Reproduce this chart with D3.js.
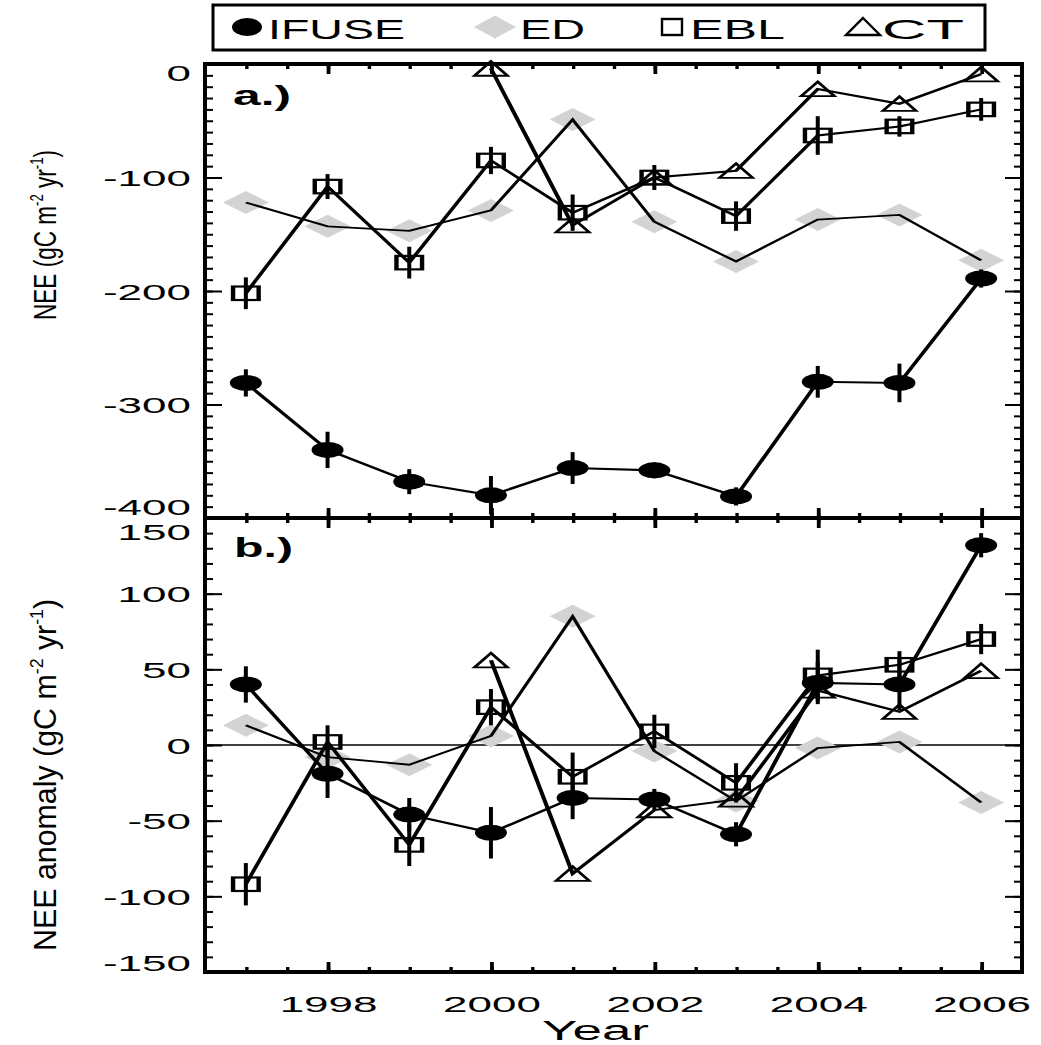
<!DOCTYPE html>
<html><head><meta charset="utf-8">
<script src="https://cdn.jsdelivr.net/npm/d3@7"></script>
<style>body{margin:0;background:#fff}svg{display:block}</style>
</head><body>
<svg id="c" width="1041" height="1045"></svg>
<script>
// ---------- data ----------
const years = [1997,1998,1999,2000,2001,2002,2003,2004,2005,2006];
const ifuseNEE = [-281,-340,-368,-380,-356,-358,-381,-280,-281,-189];
const ifuseErr = [12,16,11,17,14,7,8,14,17,8];
const edNEE    = [-122,-143,-147,-129,-49,-139,-174,-137,-133,-173];
const eblNEE   = [-202,-108,-175,-85,-131,-100,-134,-63,-55,-40];
const eblErr   = [14,11,14,12,16,11,13,17,9,10];
const ctNEE    = [null,null,null,-4,-142,-100,-94,-22,-35,-9];
const ifuseAnom = [40,-19,-46,-58,-35,-36,-59,41,40,132];
const edAnom    = [13,-8,-13,6,85,-4,-37,-2,2,-38];
const eblAnom   = [-92,2,-66,25,-21,9,-25,46,53,70];
const ctAnom    = [null,null,null,56,-85,-43,-36,36,22,49];
const topTicks = [-400,-300,-200,-100,0];
const bottomTicks = [-150,-100,-50,0,50,100,150];
const yearTicks = [1998,2000,2002,2004,2006];
const legendNames = ["IFUSE","ED","EBL","CT"];

// ---------- layout ----------
const SX = 2;                       // horizontal stretch of the plotting group
const L = 205, R = 1022, T1 = 64, B1 = 518, T2 = 518, B2 = 972;
const FONT = "Liberation Sans, Arial, Helvetica, sans-serif";
const GRAY = "#d3d3d3";

const svg = d3.select("#c");
const g = svg.append("g").attr("transform", `scale(${SX},1)`);

const x = d3.scaleLinear().domain([1996.5, 2006.5]).range([L/SX, R/SX]);
const y1 = d3.scaleLinear().domain([-400, 0]).range([B1, T1]);
const y2 = d3.scaleLinear().domain([-150, 150]).range([B2, T2]);

function styleAxis(sel, sw) {
  sel.select(".domain").remove();
  sel.selectAll("line").attr("stroke", "#000").attr("stroke-width", sw);
  sel.attr("font-family", FONT).attr("font-size", 22);
  sel.selectAll("text").attr("fill", "#000");
}

function drawPanel(y, top, bottom, majors, shifts, showXLabels) {
  const gp = g.append("g");
  const [d0, d1] = y.domain();
  const minors = d3.range(d0, d1 + 0.001, 10);
  const xMinor = d3.range(1997, 2006.01, 0.5);
  // left axis
  gp.append("g").attr("transform", `translate(${L/SX},0)`)
    .call(d3.axisLeft(y).tickValues(minors).tickSize(-4).tickFormat(""))
    .call(s => styleAxis(s, 2));
  gp.append("g").attr("transform", `translate(${L/SX},0)`)
    .call(d3.axisLeft(y).tickValues(majors).tickSize(-8.5).tickPadding(7).tickFormat(d => String(d)))
    .call(s => styleAxis(s, 2))
    .call(s => s.selectAll("text").attr("dy", d => (shifts[d] !== undefined ? shifts[d] : 0) + 8));
  // right axis
  gp.append("g").attr("transform", `translate(${R/SX},0)`)
    .call(d3.axisRight(y).tickValues(minors).tickSize(-4).tickFormat(""))
    .call(s => styleAxis(s, 2));
  gp.append("g").attr("transform", `translate(${R/SX},0)`)
    .call(d3.axisRight(y).tickValues(majors).tickSize(-8.5).tickFormat(""))
    .call(s => styleAxis(s, 2));
  // top x ticks
  gp.append("g").attr("transform", `translate(0,${top})`)
    .call(d3.axisTop(x).tickValues(xMinor).tickSize(-5).tickFormat(""))
    .call(s => styleAxis(s, 1.7));
  gp.append("g").attr("transform", `translate(0,${top})`)
    .call(d3.axisTop(x).tickValues(yearTicks).tickSize(-10).tickFormat(""))
    .call(s => styleAxis(s, 1.9));
  // bottom x ticks
  gp.append("g").attr("transform", `translate(0,${bottom})`)
    .call(d3.axisBottom(x).tickValues(xMinor).tickSize(-5).tickFormat(""))
    .call(s => styleAxis(s, 1.7));
  gp.append("g").attr("transform", `translate(0,${bottom})`)
    .call(d3.axisBottom(x).tickValues(yearTicks).tickSize(-10).tickPadding(24)
      .tickFormat(d => showXLabels ? String(d) : ""))
    .call(s => styleAxis(s, 1.9));
  return gp;
}

function drawFrame(top, bottom) {
  svg.append("rect").attr("x", L).attr("y", top).attr("width", R - L).attr("height", bottom - top)
    .attr("fill", "none").attr("stroke", "#000").attr("stroke-width", 4);
}

function seriesPts(vals, errs) {
  return years.map((yr, i) => ({ yr, v: vals[i], e: errs ? errs[i] : null })).filter(d => d.v !== null);
}

function drawData(y, ifuse, ed, ebl, ct) {
  const gd = g.append("g");
  const line = yy => d3.line().x(d => x(d.yr)).y(d => yy(d.v));
  // ED: diamonds first, then line
  const edP = seriesPts(ed);
  gd.append("g").selectAll("path").data(edP).join("path")
    .attr("transform", d => `translate(${x(d.yr)},${y(d.v)})`)
    .attr("d", "M0,-11.5L11.5,0L0,11.5L-11.5,0Z").attr("fill", GRAY);
  gd.append("path").datum(edP).attr("d", line(y)).attr("fill", "none")
    .attr("stroke", "#000").attr("stroke-width", 1.8);
  // IFUSE
  const ifP = seriesPts(ifuse, ifuseErr);
  gd.append("path").datum(ifP).attr("d", line(y)).attr("fill", "none")
    .attr("stroke", "#000").attr("stroke-width", 2.1);
  gd.append("g").selectAll("line").data(ifP).join("line")
    .attr("x1", d => x(d.yr)).attr("x2", d => x(d.yr))
    .attr("y1", d => y(d.v - d.e)).attr("y2", d => y(d.v + d.e))
    .attr("stroke", "#000").attr("stroke-width", 2);
  gd.append("g").selectAll("ellipse").data(ifP).join("ellipse")
    .attr("cx", d => x(d.yr)).attr("cy", d => y(d.v)).attr("rx", 8).attr("ry", 8).attr("fill", "#000");
  // EBL
  const ebP = seriesPts(ebl, eblErr);
  gd.append("path").datum(ebP).attr("d", line(y)).attr("fill", "none")
    .attr("stroke", "#000").attr("stroke-width", 2.1);
  gd.append("g").selectAll("line").data(ebP).join("line")
    .attr("x1", d => x(d.yr)).attr("x2", d => x(d.yr))
    .attr("y1", d => y(d.v - d.e)).attr("y2", d => y(d.v + d.e))
    .attr("stroke", "#000").attr("stroke-width", 2);
  gd.append("g").selectAll("rect").data(ebP).join("rect")
    .attr("x", d => x(d.yr) - 6.4).attr("y", d => y(d.v) - 6.75).attr("width", 12.8).attr("height", 13.5)
    .attr("fill", "none").attr("stroke", "#000").attr("stroke-width", 2.2);
  // CT
  const ctP = seriesPts(ct);
  gd.append("path").datum(ctP).attr("d", line(y)).attr("fill", "none")
    .attr("stroke", "#000").attr("stroke-width", 2.1);
  gd.append("g").selectAll("path").data(ctP).join("path")
    .attr("transform", d => `translate(${x(d.yr)},${y(d.v)})`)
    .attr("d", "M0,-7.2L8.3,7.2L-8.3,7.2Z").attr("fill", "none")
    .attr("stroke", "#000").attr("stroke-width", 1.8).attr("stroke-linejoin", "miter");
}

// panel a
drawPanel(y1, T1, B1, topTicks, { "0": 8, "-400": -12 }, false);
drawData(y1, ifuseNEE, edNEE, eblNEE, ctNEE);
// panel b
drawPanel(y2, T2, B2, bottomTicks, { "150": 14, "-150": -10 }, true);
g.append("line").attr("x1", x(1996.5)).attr("x2", x(2006.5)).attr("y1", y2(0)).attr("y2", y2(0))
  .attr("stroke", "#000").attr("stroke-width", 1.6);
drawData(y2, ifuseAnom, edAnom, eblAnom, ctAnom);
drawFrame(T1, B1);
drawFrame(T2, B2);

// panel labels
function stretchedText(txt, px, py, fs, len, weight) {
  return svg.append("text").attr("x", px).attr("y", py).attr("font-family", FONT)
    .attr("font-size", fs).attr("font-weight", weight || "normal")
    .attr("textLength", len).attr("lengthAdjust", "spacingAndGlyphs").text(txt);
}
stretchedText("a.)", 233, 105, 28, 58, "bold");
stretchedText("b.)", 234, 557, 28, 59, "bold");
stretchedText("Year", 542, 1040, 27, 107);

// y labels
function yLabel(cx, cy, len, pre) {
  const t = svg.append("text").attr("transform", `translate(${cx},${cy}) rotate(-90)`)
    .attr("text-anchor", "middle").attr("font-family", FONT).attr("font-size", 31)
    .attr("textLength", len).attr("lengthAdjust", "spacingAndGlyphs");
  t.append("tspan").text(pre + "(gC m");
  t.append("tspan").attr("font-size", 18).attr("dy", -13).text("-2");
  t.append("tspan").attr("dy", 13).text(" yr");
  t.append("tspan").attr("font-size", 18).attr("dy", -13).text("-1");
  t.append("tspan").attr("dy", 13).text(")");
}
yLabel(56, 235, 170, "NEE ");
yLabel(56, 775, 352, "NEE anomaly ");

// legend
svg.append("rect").attr("x", 213).attr("y", 5).attr("width", 772).attr("height", 45)
  .attr("fill", "none").attr("stroke", "#000").attr("stroke-width", 3);
const lg = svg.append("g");
lg.append("ellipse").attr("cx", 247).attr("cy", 27).attr("rx", 15).attr("ry", 9).attr("fill", "#000");
lg.append("path").attr("transform", "translate(495,27)").attr("d", "M0,-11.5L21,0L0,11.5L-21,0Z").attr("fill", GRAY);
lg.append("rect").attr("x", 662).attr("y", 19).attr("width", 20).attr("height", 16)
  .attr("fill", "none").attr("stroke", "#000").attr("stroke-width", 2.4);
lg.append("path").attr("transform", "translate(863,27)").attr("d", "M0,-9L17,8L-17,8Z")
  .attr("fill", "none").attr("stroke", "#000").attr("stroke-width", 2.4);
const legX = [268, 520, 690, 882], legW = [137, 65, 95, 82];
legendNames.forEach((n, i) => stretchedText(n, legX[i], 39, 28, legW[i]));
</script>
</body></html>
